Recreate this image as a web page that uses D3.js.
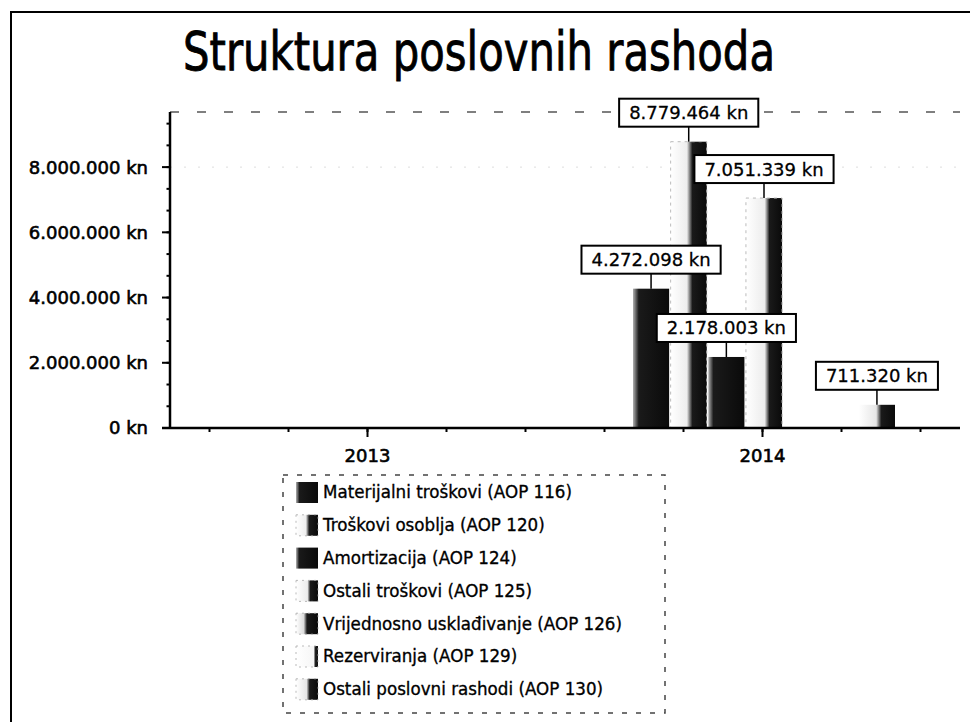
<!DOCTYPE html>
<html>
<head>
<meta charset="utf-8">
<script src="https://cdn.jsdelivr.net/npm/d3@7"></script>
<style>
  html, body { margin: 0; padding: 0; background: #fff; }
  svg { display: block; }
  text { font-family: "DejaVu Sans", Verdana, sans-serif; fill: #000; }
</style>
</head>
<body>
<svg id="chart" width="970" height="722"></svg>
<script>
// ---- data ----
const years = ["2013", "2014"];
const series = [
  "Materijalni troškovi (AOP 116)",
  "Troškovi osoblja (AOP 120)",
  "Amortizacija (AOP 124)",
  "Ostali troškovi (AOP 125)",
  "Vrijednosno usklađivanje (AOP 126)",
  "Rezerviranja (AOP 129)",
  "Ostali poslovni rashodi (AOP 130)"
];
const values2013 = [0, 0, 0, 0, 0, 0, 0];
const values2014 = [4272098, 8779464, 2178003, 7051339, 0, 0, 711320];
const yTicks = [0, 2000000, 4000000, 6000000, 8000000];
const titleText = "Struktura poslovnih rashoda";

// grayscale gradient styles (left -> right) per series
const shades = [
  [[0, "#b0b0b0"], [0.16, "#1a1a1a"], [1, "#0a0a0a"]],
  [[0, "#ffffff"], [0.45, "#eeeeee"], [0.6, "#1a1a1a"], [1, "#0a0a0a"]],
  [[0, "#b5b5b5"], [0.14, "#1a1a1a"], [1, "#0a0a0a"]],
  [[0, "#ffffff"], [0.52, "#ececec"], [0.65, "#1a1a1a"], [1, "#0a0a0a"]],
  [[0, "#ffffff"], [0.35, "#dddddd"], [0.5, "#1a1a1a"], [1, "#0a0a0a"]],
  [[0, "#ffffff"], [0.8, "#f6f6f6"], [0.88, "#222"], [1, "#111"]],
  [[0, "#ffffff"], [0.48, "#e6e6e6"], [0.62, "#1a1a1a"], [1, "#0a0a0a"]]
];

const valuesByYear = { "2013": values2013, "2014": values2014 };

const svg = d3.select("#chart");
const defs = svg.append("defs");
shades.forEach((st, i) => {
  const g = defs.append("linearGradient").attr("id", "grad" + i)
    .attr("x1", 0).attr("y1", 0).attr("x2", 1).attr("y2", 0);
  st.forEach(([o, c]) => g.append("stop").attr("offset", o).attr("stop-color", c));
});

// frame
svg.append("rect").attr("x", 11).attr("y", 12).attr("width", 990).attr("height", 740)
  .attr("fill", "#fff").attr("stroke", "#000").attr("stroke-width", 2);

// title
svg.append("text").attr("x", 479).attr("y", 70)
  .attr("text-anchor", "middle").attr("font-size", 53)
  .attr("stroke", "#000").attr("stroke-width", 0.9)
  .attr("textLength", 592).attr("lengthAdjust", "spacingAndGlyphs")
  .text(titleText);

// scales
const plotL = 170, plotR = 960, plotT = 112, plotB = 428;
const y = d3.scaleLinear().domain([0, 9690000]).range([plotB, plotT]);
const x0 = d3.scaleBand().domain(years).range([plotL, plotR]).padding(0);
const x1 = d3.scaleBand().domain(series).range([68, 330]).paddingInner(0.04);

const loc = d3.formatLocale({ decimal: ",", thousands: ".", grouping: [3], currency: ["", " kn"] });
const fmt = v => loc.format(",.0f")(v) + " kn";

// plot top dashed border
svg.append("line").attr("x1", plotL).attr("x2", plotR).attr("y1", plotT).attr("y2", plotT)
  .attr("stroke", "#555").attr("stroke-width", 1.5).attr("stroke-dasharray", "9,18");

// faint gridline
svg.append("line").attr("x1", plotL).attr("x2", plotR).attr("y1", y(8000000)).attr("y2", y(8000000))
  .attr("stroke", "#ddd").attr("stroke-width", 1).attr("stroke-dasharray", "2,12");

// bars
const groups = svg.append("g").selectAll("g").data(years).join("g")
  .attr("transform", d => `translate(${x0(d)},0)`);
groups.selectAll("rect").data(d => series.map((s, i) => ({ s, i, v: valuesByYear[d][i] })).filter(e => e.v > 0))
  .join("rect")
  .attr("x", e => x1(e.s)).attr("width", x1.bandwidth())
  .attr("y", e => y(e.v)).attr("height", e => y(0) - y(e.v))
  .attr("fill", e => `url(#grad${e.i})`)
  .attr("stroke", e => e.i === 1 || e.i === 3 ? "#bbb" : "none")
  .attr("stroke-dasharray", "3,4").attr("stroke-width", 1);

// y axis
const yAxis = svg.append("g");
yAxis.append("line").attr("x1", plotL).attr("x2", plotL).attr("y1", plotT).attr("y2", plotB)
  .attr("stroke", "#000").attr("stroke-width", 2.5);
const minorY = d3.range(0, 9690000, 2000000 / 3);
yAxis.selectAll(".mny").data(minorY).join("line")
  .attr("x1", plotL - 3.5).attr("x2", plotL).attr("y1", d => y(d)).attr("y2", d => y(d))
  .attr("stroke", "#000").attr("stroke-width", 2);
yAxis.selectAll(".mjy").data(yTicks).join("line")
  .attr("x1", plotL - 8).attr("x2", plotL).attr("y1", d => y(d)).attr("y2", d => y(d))
  .attr("stroke", "#000").attr("stroke-width", 2);
yAxis.selectAll("text").data(yTicks).join("text")
  .attr("x", 148).attr("y", d => y(d)).attr("dy", "0.36em")
  .attr("text-anchor", "end").attr("font-size", 18)
  .attr("stroke", "#000").attr("stroke-width", 0.6)
  .text(d => fmt(d));

// x axis
const xAxis = svg.append("g");
xAxis.append("line").attr("x1", plotL - 8).attr("x2", plotR).attr("y1", plotB).attr("y2", plotB)
  .attr("stroke", "#000").attr("stroke-width", 2.5);
const sub = x0.bandwidth() / 5;
const xTickPos = d3.range(10).map(k => plotL + (k + 0.5) * sub);
xAxis.selectAll(".mnx").data(xTickPos).join("line")
  .attr("x1", d => d).attr("x2", d => d).attr("y1", plotB).attr("y2", plotB + 4)
  .attr("stroke", "#000").attr("stroke-width", 2);
xAxis.selectAll(".mjx").data(years).join("line")
  .attr("x1", d => x0(d) + x0.bandwidth() / 2).attr("x2", d => x0(d) + x0.bandwidth() / 2)
  .attr("y1", plotB).attr("y2", plotB + 9)
  .attr("stroke", "#000").attr("stroke-width", 2);
xAxis.selectAll("text").data(years).join("text")
  .attr("x", d => x0(d) + x0.bandwidth() / 2).attr("y", 462)
  .attr("text-anchor", "middle").attr("font-size", 18)
  .attr("stroke", "#000").attr("stroke-width", 0.6)
  .text(d => d);

// data labels
const labelData = [];
years.forEach(yr => series.forEach((s, i) => {
  const v = valuesByYear[yr][i];
  if (v > 0) labelData.push({ cx: x0(yr) + x1(s) + x1.bandwidth() / 2, top: y(v), v });
}));
const lbl = svg.append("g").selectAll("g").data(labelData).join("g");
lbl.each(function (d) {
  const g = d3.select(this);
  const boxB = d.top - 15, boxH = 28;
  g.append("line").attr("x1", d.cx).attr("x2", d.cx).attr("y1", boxB).attr("y2", d.top)
    .attr("stroke", "#000").attr("stroke-width", 1.5);
  const r = g.append("rect").attr("fill", "#fff").attr("stroke", "#000").attr("stroke-width", 2);
  const t = g.append("text").attr("x", d.cx).attr("y", boxB - boxH / 2).attr("dy", "0.36em")
    .attr("text-anchor", "middle").attr("font-size", 18)
    .attr("stroke", "#000").attr("stroke-width", 0.3).text(fmt(d.v));
  const w = t.node().getComputedTextLength() + 20;
  r.attr("x", d.cx - w / 2).attr("y", boxB - boxH).attr("width", w).attr("height", boxH);
});

// legend
const leg = svg.append("g");
leg.append("rect").attr("x", 283).attr("y", 475).attr("width", 382).attr("height", 238)
  .attr("fill", "#fff").attr("stroke", "#444").attr("stroke-width", 1.5).attr("stroke-dasharray", "5,9");
const rows = leg.selectAll("g").data(series).join("g")
  .attr("transform", (d, i) => `translate(0,${492 + i * 32.8})`);
rows.append("rect").attr("x", 296).attr("y", -10).attr("width", 22).attr("height", 21)
  .attr("fill", (d, i) => `url(#grad${i})`)
  .attr("stroke", (d, i) => [1, 3, 4, 5, 6].includes(i) ? "#aaa" : "none")
  .attr("stroke-width", 0.8).attr("stroke-dasharray", "2,4");
const lt = rows.append("text").attr("x", 323).attr("y", 0).attr("dy", "0.36em")
  .attr("font-size", 18).attr("stroke", "#000").attr("stroke-width", 0.35).text(d => d);
// compress legend texts consistently so the first entry matches the reference width
const w0 = lt.nodes()[0].getComputedTextLength();
const k = 249 / w0;
lt.each(function () {
  const wl = this.getComputedTextLength();
  d3.select(this).attr("textLength", wl * k).attr("lengthAdjust", "spacingAndGlyphs");
});
</script>
</body>
</html>
